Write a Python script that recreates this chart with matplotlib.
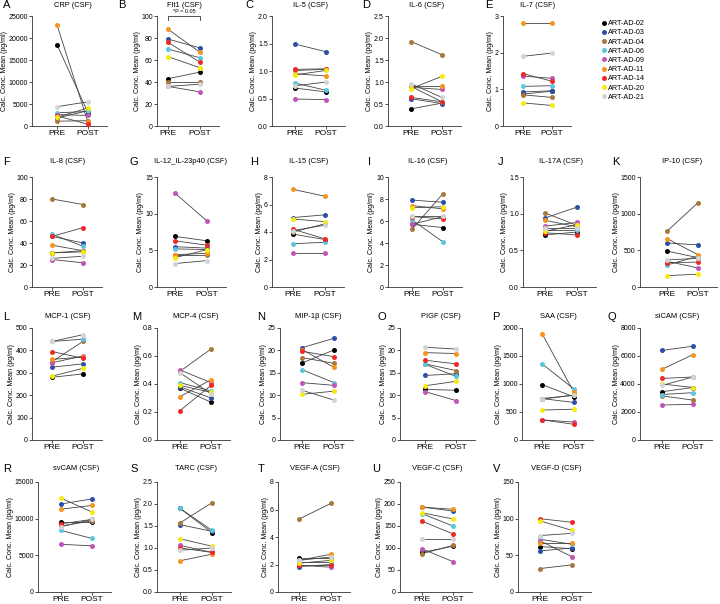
import matplotlib
matplotlib.use("Agg")
import matplotlib.pyplot as plt
from matplotlib.lines import Line2D

plt.rcParams['font.family'] = ['Liberation Sans', 'DejaVu Sans']

subjects = ['ART-AD-02', 'ART-AD-03', 'ART-AD-04', 'ART-AD-06', 'ART-AD-09',
            'ART-AD-11', 'ART-AD-14', 'ART-AD-20', 'ART-AD-21']
colors = ['#000000', '#2e4fa6', '#a8783e', '#5cc6e0', '#c255b9',
          '#f7941d', '#ed2a24', '#f7ea10', '#d4d4d4']

letters = list('ABCDEFGHIJKLMNOPQRSTUV')
titles = ['CRP (CSF)', 'Flt1 (CSF)', 'IL-5 (CSF)', 'IL-6 (CSF)', 'IL-7 (CSF)',
          'IL-8 (CSF)', 'IL-12_IL-23p40 (CSF)', 'IL-15 (CSF)', 'IL-16 (CSF)',
          'IL-17A (CSF)', 'IP-10 (CSF)', 'MCP-1 (CSF)', 'MCP-4 (CSF)',
          'MIP-1β (CSF)', 'PIGF (CSF)', 'SAA (CSF)', 'siCAM (CSF)',
          'svCAM (CSF)', 'TARC (CSF)', 'VEGF-A (CSF)', 'VEGF-C (CSF)', 'VEGF-D (CSF)']
y_max = [25000, 100, 2.0, 2.5, 3, 100, 15, 8, 10, 1.5, 1500,
         500, 0.8, 25, 25, 2000, 8000, 15000, 2.5, 8, 250, 150]
y_step = [5000, 20, 0.5, 0.5, 1, 20, 5, 2, 2, 0.5, 500,
          100, 0.2, 5, 5, 500, 2000, 5000, 0.5, 2, 50, 50]
y_dec = [0, 0, 1, 1, 0, 0, 0, 0, 0, 1, 0, 0, 1, 0, 0, 0, 0, 0, 1, 0, 0, 0]

# subject order: 02, 03, 04, 06, 09, 11, 14, 20, 21
pre_values = [
    [18500, 1800, 1100, 3000, 2600, 23000, 2300, 2000, 4400],  # CRP
    [43, 79, 40, 70, 36, 88, 76, 63, 36],                      # Flt1
    [0.69, 1.49, 1.01, 0.78, 0.49, 0.95, 1.03, 0.93, 0.73],    # IL-5
    [0.39, 0.62, 1.92, 0.90, 0.88, 0.90, 0.65, 0.85, 0.96],    # IL-6
    [0.87, 0.93, 0.85, 1.08, 1.36, 2.80, 1.43, 0.63, 1.90],    # IL-7
    [31, 46, 80, 48, 25, 38, 46, 31, 26],                      # IL-8
    [6.9, 5.5, 4.3, 5.2, 12.8, 4.4, 6.3, 4.0, 3.2],            # IL-12
    [3.85, 5.05, 4.0, 3.15, 2.5, 7.1, 4.2, 4.95, 4.1],         # IL-15
    [5.7, 7.9, 5.25, 6.1, 5.7, 7.4, 6.4, 7.2, 6.5],            # IL-16
    [0.71, 0.94, 1.01, 0.78, 0.83, 0.91, 0.74, 0.76, 0.80],    # IL-17A
    [490, 600, 760, 300, 350, 660, 330, 155, 370],             # IP-10
    [280, 325, 350, 440, 345, 360, 395, 285, 440],             # MCP-1
    [0.37, 0.38, 0.49, 0.41, 0.50, 0.31, 0.21, 0.39, 0.48],    # MCP-4
    [17.2, 20.6, 18.4, 15.7, 12.8, 20.2, 19.8, 10.2, 11.1],    # MIP-1b
    [11.3, 14.4, 17.0, 16.9, 10.8, 19.5, 17.8, 12.1, 20.7],    # PIGF
    [990, 740, 730, 1360, 360, 1900, 360, 535, 740],           # SAA
    [3450, 6400, 3150, 3250, 2500, 5050, 4400, 4000, 3900],    # siCAM
    [9500, 12000, 9000, 8400, 6500, 11300, 9300, 12800, 8900], # svCAM
    [1.90, 1.53, 1.57, 1.90, 1.06, 0.71, 1.00, 1.21, 0.95],    # TARC
    [2.5, 1.85, 5.3, 2.2, 1.95, 2.3, 2.0, 2.1, 2.3],           # VEGF-A
    [90, 193, 87, 178, 98, 193, 161, 180, 121],                # VEGF-C
    [62, 56, 32, 72, 70, 67, 100, 97, 77],                     # VEGF-D
]
post_values = [
    [3000, 3500, 1200, 3300, 2400, 800, 400, 4100, 5500],
    [49, 71, 40, 62, 31, 67, 58, 53, 38],
    [0.62, 1.35, 1.03, 0.65, 0.48, 0.91, 1.04, 1.01, 0.80],
    [0.52, 0.51, 1.62, 0.55, 0.83, 0.90, 0.55, 1.13, 0.65],
    [0.95, 0.96, 0.78, 1.10, 1.30, 2.80, 1.22, 0.56, 1.99],
    [33, 40, 75, 37, 22, 33, 54, 32, 28],
    [6.3, 5.3, 4.3, 5.1, 9.0, 4.6, 5.7, 5.1, 3.6],
    [3.45, 5.25, 4.6, 3.25, 2.5, 6.6, 3.5, 4.75, 4.5],
    [5.4, 7.7, 8.5, 4.1, 6.4, 7.1, 6.2, 7.3, 6.5],
    [0.75, 1.09, 0.84, 0.78, 0.88, 0.82, 0.71, 0.85, 0.80],
    [400, 575, 1150, 420, 260, 440, 340, 175, 390],
    [295, 340, 440, 450, 375, 370, 365, 320, 470],
    [0.27, 0.30, 0.65, 0.35, 0.41, 0.43, 0.39, 0.34, 0.33],
    [20.1, 22.7, 17.1, 12.8, 12.2, 16.2, 18.6, 10.9, 8.9],
    [11.1, 14.8, 15.5, 14.2, 8.8, 19.3, 17.0, 13.1, 20.3],
    [770, 670, 800, 910, 320, 850, 280, 550, 800],
    [3750, 6700, 2850, 3380, 2550, 6100, 4500, 3750, 4500],
    [9500, 12700, 9700, 7300, 6300, 11800, 9900, 10900, 9900],
    [1.35, 1.38, 2.03, 1.40, 0.90, 0.86, 0.90, 1.04, 1.00],
    [2.5, 2.0, 6.45, 2.2, 1.8, 2.75, 2.0, 2.3, 2.55],
    [104, 184, 106, 150, 69, 188, 132, 166, 121],
    [59, 60, 37, 65, 48, 67, 95, 84, 80],
]

# layout in pixels
row_of = [0]*5 + [1]*6 + [2]*6 + [3]*5
row_top = [16, 177, 328, 482]
row_bot = [126, 287, 440, 592]
row_text_y = [5.5, 162, 317, 469]
yaxis_px = [32, 157, 272, 388, 503, 32, 157, 272, 388, 523, 640,
            32, 157, 280, 400, 522, 640, 38, 157, 278, 400, 518]
pre_px = [57, 168, 295, 411, 523, 52, 175, 293, 412, 545, 667,
          52, 180, 302, 425, 542, 662, 61, 180, 299, 422, 540]
post_px = [88, 200, 326, 442, 552, 83, 207, 325, 443, 577, 698,
           83, 211, 334, 456, 574, 693, 92, 212, 331, 453, 572]
letter_px = [3, 118, 245, 362, 485, 3, 130, 250, 368, 498, 612,
             3, 132, 257, 378, 492, 607, 3, 130, 258, 372, 493]

W, H = 720, 604
fig = plt.figure(figsize=(7.2, 6.04), dpi=100)

for i in range(len(titles)):
    r = row_of[i]
    left = yaxis_px[i]
    right = post_px[i] + 19
    d = post_px[i] - pre_px[i]
    ax = fig.add_axes([left / W, 1 - row_bot[r] / H,
                       (right - left) / W, (row_bot[r] - row_top[r]) / H])
    ax.set_xlim(-(pre_px[i] - left) / d, (right - pre_px[i]) / d)
    ax.set_ylim(0, y_max[i])
    for k in range(len(subjects)):
        ax.plot([0, 1], [pre_values[i][k], post_values[i][k]],
                color='#444444', lw=0.6, zorder=2, clip_on=False)
    for k in range(len(subjects)):
        ax.plot([0, 1], [pre_values[i][k], post_values[i][k]], ls='',
                marker='o', ms=3.6, mec='none', color=colors[k],
                zorder=3, clip_on=False)
    n = int(round(y_max[i] / y_step[i]))
    ticks = [y_step[i] * j for j in range(n + 1)]
    ax.set_yticks(ticks)
    ax.set_yticklabels([f'{t:.{y_dec[i]}f}' for t in ticks], fontsize=5)
    ax.set_xticks([0, 1])
    ax.set_xticklabels(['PRE', 'POST'], fontsize=6)
    for s in ['top', 'right']:
        ax.spines[s].set_visible(False)
    for s in ['left', 'bottom']:
        ax.spines[s].set_linewidth(0.6)
        ax.spines[s].set_color('#333333')
    ax.tick_params(direction='out', length=2, width=0.6, colors='#333333',
                   pad=1, labelcolor='black')
    ax.set_ylabel('Calc. Conc. Mean (pg/ml)', fontsize=5, labelpad=0.5)
    ty = 1 - row_text_y[r] / H
    mid = (pre_px[i] + post_px[i]) / 2
    fig.text(mid / W, ty, titles[i], fontsize=5.4, ha='center', va='center')
    fig.text(letter_px[i] / W, ty, letters[i], fontsize=8, ha='left', va='center')

    if letters[i] == 'B':
        ax.plot([0, 0, 1, 1], [96.5, 100, 100, 96.5], color='#333333',
                lw=0.6, clip_on=False)
        ax.text(0.5, 102, '*P = 0.05', fontsize=4, ha='center', va='bottom')

handles = [Line2D([], [], ls='', marker='o', ms=3.6, mec='none', color=c)
           for c in colors]
fig.legend(handles, subjects, loc='upper left',
           bbox_to_anchor=(600 / W, 1 - 20 / H), frameon=False, fontsize=5.2,
           handletextpad=0.1, labelspacing=0.3, handlelength=1.0,
           borderpad=0, borderaxespad=0)

fig.savefig('out.png', dpi=100)
